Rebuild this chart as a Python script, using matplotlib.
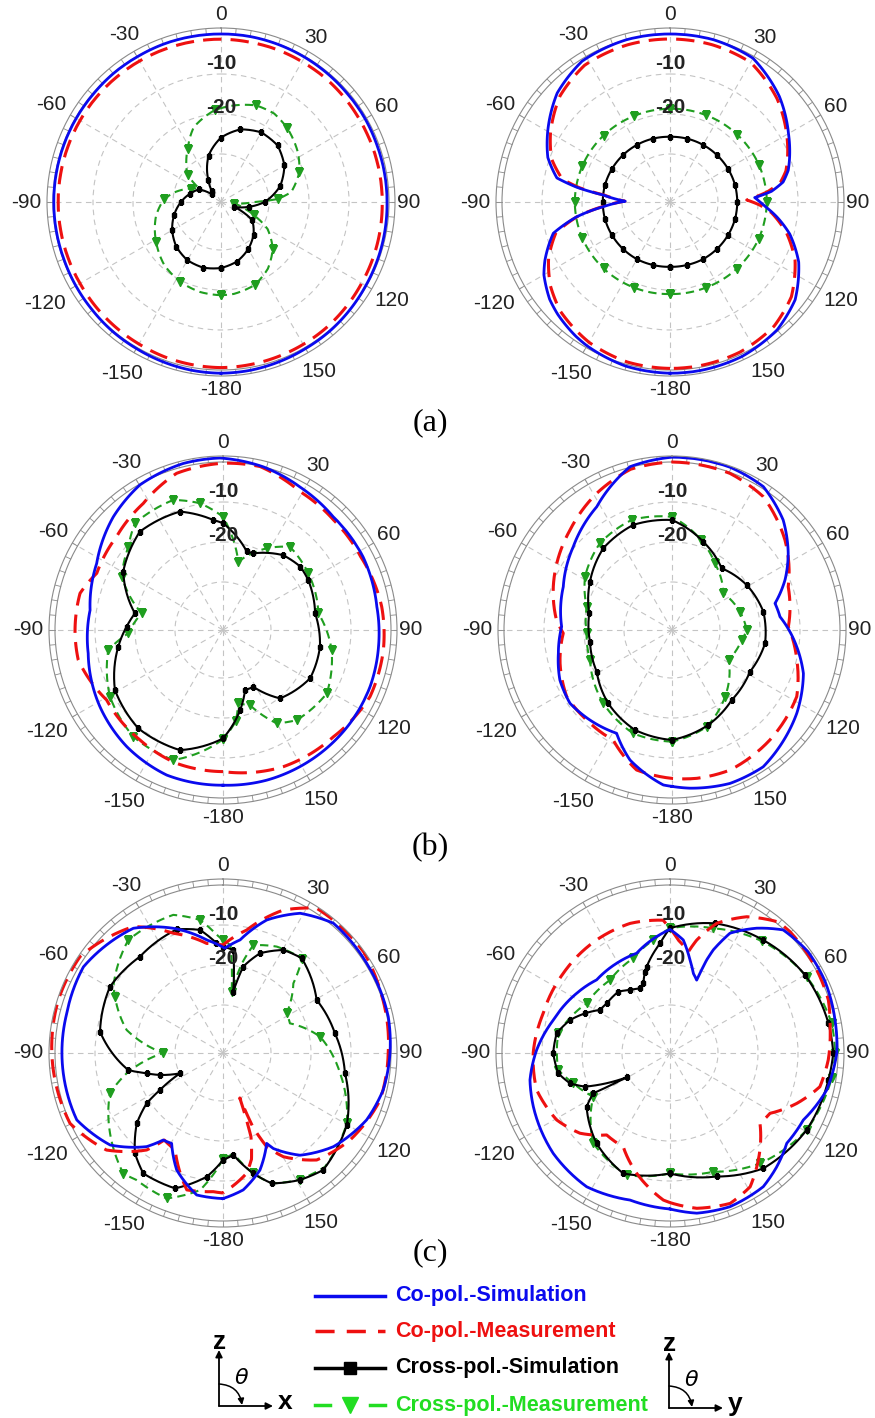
import numpy as np
import matplotlib
matplotlib.use("Agg")
import matplotlib.pyplot as plt

W, H = 875, 1418
plt.rcParams['font.family'] = ['Liberation Sans', 'DejaVu Sans']

# angles in degrees (0 = top, clockwise positive), values in dB

# ---- (a) left
a1_co_sim_ang = list(range(-180, 181, 10))
a1_co_sim = [0.8, 0.7, 0.5, 0.3, 0.2, 0.0, -0.1, -0.2, -0.2, -0.2, -0.2, -0.2, -0.2, -0.2, -0.1, -0.1, 0.0, 0.0, 0.0,
             0.0, -0.1, -0.2, -0.3, -0.4, -0.4, -0.5, -0.5, -0.5, -0.4, -0.3, -0.2, 0.0, 0.2, 0.3, 0.5, 0.7, 0.8]
a1_co_meas_ang = list(range(-180, 181, 10))
a1_co_meas = [-0.6, -0.7, -0.8, -1.0, -1.1, -1.2, -1.3, -1.3, -1.3, -1.3, -1.3, -1.3, -1.3, -1.3, -1.3, -1.3, -1.3, -1.3, -1.3,
              -1.4, -1.4, -1.5, -1.5, -1.6, -1.7, -1.7, -1.7, -1.7, -1.6, -1.5, -1.4, -1.2, -1.0, -0.9, -0.8, -0.7, -0.6]
a1_x_sim_ang = [-180, -165, -150, -135, -120, -105, -90, -75, -60, -50, -40, -30, -15, 0, 15, 30, 45, 60, 75, 90, 100, 110,
                120, 135, 150, 165, 180]
a1_x_sim = [-25.5, -25.0, -25.2, -26.2, -27.9, -29.9, -32.0, -34.0, -35.7, -39.0, -38.5, -35.7, -30.0, -25.9, -23.2, -21.9,
            -22.0, -23.7, -26.7, -31.1, -35.0, -38.5, -33.0, -30.5, -28.4, -26.6, -25.5]
a1_x_meas_ang = [-180, -167, -153, -138, -122, -102, -87, -77, -66, -58, -51, -40, -32, -20, -4, 8, 20, 31, 42, 57, 69, 82,
                 87, 90, 97, 105, 112, 120, 132, 145, 158, 172, 180]
a1_x_meas = [-18.7, -18.9, -19.6, -20.8, -22.9, -25.4, -27.8, -30.5, -33.8, -35.5, -31.3, -28.5, -26.3, -22.1, -19.0, -17.6,
             -16.3, -16.2, -17.2, -19.1, -21.0, -24.3, -27.8, -33.7, -38.6, -36.0, -33.0, -28.6, -24.6, -21.6, -19.6, -18.8,
             -18.7]

# ---- (a) right
a2_co_sim_ang = [-180, -165, -150, -145, -135, -129, -120, -115, -105, -99, -94, -89, -84, -81, -78, -70, -60, -46, -32, -15,
                 0, 15, 30, 46, 60, 75, 80, 84, 87, 90, 93, 98, 105, 115, 128, 140, 155, 170, 180]
a2_co_sim = [0.8, 0.5, -0.5, -1.0, -2.3, -3.3, -5.6, -7.5, -11.8, -18.4, -25.3, -30.8, -25.2, -18.4, -13.1, -9.5, -6.7, -2.8,
             -0.5, 0.0, 0.0, 0.0, -0.5, -4.0, -7.8, -11.4, -13.3, -16.5, -20.8, -19.5, -18.0, -15.0, -11.0, -6.5, -2.3, -0.3,
             0.6, 0.8, 0.8]
a2_co_meas_ang = [-180, -165, -150, -135, -125, -115, -105, -99, -94, -89, -84, -81, -78, -70, -60, -46, -32, -15, 0, 15, 30,
                  46, 60, 75, 80, 84, 88.5, 92, 96, 105, 115, 128, 140, 155, 170, 180]
a2_co_meas = [-0.4, -0.6, -1.5, -3.3, -5.5, -8.5, -12.5, -18.5, -25.0, -30.7, -25.5, -19.0, -14.5, -10.5, -7.5, -3.8, -1.7,
              -1.3, -1.25, -1.3, -1.7, -4.8, -8.3, -12.0, -14.0, -17.5, -22.8, -19.5, -16.5, -11.8, -7.5, -3.5, -1.5, -0.6,
              -0.4, -0.4]
a2_x_sim_ang = list(range(-180, 181, 15))
a2_x_sim = [-25.8, -25.7, -25.5, -25.4, -25.3, -25.2, -25.2, -25.2, -25.3, -25.4, -25.5, -25.6, -25.7, -25.6, -25.5, -25.4,
            -25.3, -25.2, -25.2, -25.2, -25.3, -25.4, -25.5, -25.7, -25.8]
a2_x_meas_ang = [-180, -157.5, -135, -112.5, -90, -67.5, -45, -22.5, 0, 22.5, 45, 67.5, 90, 112.5, 135, 157.5, 180]
a2_x_meas = [-19.0, -18.8, -18.5, -18.3, -18.2, -18.3, -18.5, -18.7, -18.7, -18.5, -18.2, -17.9, -17.8, -18.0, -18.4, -18.8,
             -19.0]

# ---- (b) left
b1_co_sim_ang = [-180, -158.8, -140.5, -121.9, -99.8, -81.5, -62.2, -44.1, -29.8, -13.4, -1, 14, 28.3, 44.2, 62.4, 81.4,
                 96.1, 111, 126.3, 150.6, 163.8, 180]
b1_co_sim = [-3.2, -3.1, -4.2, -5.75, -7.8, -8.4, -6.3, -2.6, -0.2, 0.8, 1.0, 0.0, -1.4, -2.5, -2.5, -3.1, -2.9, -2.6, -2.6,
             -2.8, -2.9, -3.2]
b1_co_meas_ang = [-180, -160.8, -143, -121, -101.7, -91.3, -75.6, -65.8, -48.7, -32.2, -16.5, 0, 12.8, 29.1, 45.1, 62, 81.6,
                  97.1, 114.4, 134, 156.2, 180]
b1_co_meas = [-6.6, -6.7, -7.55, -8.05, -5.05, -5.0, -5.1, -7.4, -6.6, -4.6, -1.15, -0.3, -0.1, -2.4, -3.0, -3.0, -1.9, -1.6,
              -1.65, -3.6, -4.65, -6.6]
b1_x_sim_ang = [-180, -160.3, -139.3, -119, -99, -88, -79.3, -59.7, -40.2, -20, -5, 0, 16.8, 21.6, 38.8, 50.6, 59.6, 79.7,
                99.8, 119, 140.2, 151.9, 159.9, 168, 180]
b1_x_sim = [-14.9, -10.1, -9.55, -11.1, -15.5, -17.9, -19.6, -13.1, -9.8, -10.5, -14.4, -15.3, -21.5, -21.4, -18.0, -17.0,
            -17.3, -18.6, -17.4, -17.1, -19.75, -25.9, -26.0, -21.5, -14.9]
b1_x_meas_ang = [-180, -159.1, -140, -120.5, -99.9, -92, -78.4, -62.2, -48.7, -39.5, -20.9, -10.3, 0, 12.6, 28.1, 38.8, 56.4,
                 80, 100.4, 121.4, 140.7, 150.1, 160.2, 168.2, 172, 180]
b1_x_meas = [-14.7, -7.2, -7.15, -9.2, -12.9, -18.3, -21.25, -13.4, -10.5, -7.4, -7.2, -9.8, -13.7, -24.5, -18.85, -15.3,
             -16.4, -17.8, -14.4, -11.6, -12.9, -15.1, -22.0, -23.3, -19.0, -14.7]

# ---- (b) right
b2_co_sim_ang = [-180, -176.8, -162.1, -151.8, -137.7, -125.7, -114.1, -101.6, -88.3, -68.3, -49.8, -31.4, -14.4, 0, 19.6,
                 32.5, 45.3, 56.6, 66.1, 75.5, 83, 97.6, 108.3, 123.7, 146.3, 159.3, 173.5, 180]
b2_co_sim = [-2.9, -3.2, -7.85, -12.7, -11.55, -10.6, -11.3, -13.0, -14.4, -12.75, -9.7, -5.9, 0.15, 1.2, 1.2, 0.5, -2.9,
             -7.2, -11.1, -15.4, -14.8, -10.55, -7.4, -4.5, -0.9, -1.0, -2.2, -2.9]
b2_co_meas_ang = [-180, -165.8, -151.9, -136.5, -122.3, -106.6, -91.7, -85, -69.9, -45.6, -28.9, -14.4, 0, 20.3, 34.4, 51.5,
                  69.6, 88.4, 103.5, 118.1, 138.3, 157.5, 170.5, 180]
b2_co_meas = [-4.9, -5.9, -10.8, -11.0, -10.85, -12.8, -14.8, -13.0, -10.4, -6.3, -3.0, -0.5, 0.0, -0.25, -1.6, -5.9, -11.0,
              -12.9, -9.9, -6.65, -5.2, -4.1, -4.4, -4.9]
b2_x_sim_ang = [-180, -159.7, -139, -118.9, -98.1, -78.6, -59.5, -40, -20.2, 0, 19.5, 38.8, 58.9, 78.7, 98.1, 118.1, 139.5,
                159, 180]
b2_x_sim = [-14.5, -15.35, -17.7, -20.5, -21.3, -20.9, -18.2, -15.3, -14.0, -14.5, -18.6, -22.2, -20.2, -18.7, -18.5, -19.9,
            -19.0, -16.6, -14.5]
b2_x_meas_ang = [-180, -159.5, -136.9, -110.1, -92.2, -74.7, -58.5, -39.7, -20.1, 0, 18, 32.8, 54.4, 74.9, 90, 98.2, 118,
                 141.5, 160.3, 180]
b2_x_meas = [-14.1, -14.4, -16.9, -20.2, -20.65, -19.9, -16.5, -13.8, -12.7, -13.7, -18.4, -22.2, -26.2, -24.4, -23.3, -24.4,
             -26.0, -20.7, -16.3, -14.1]

# ---- (c) left
c1_co_sim_ang = [-180, -169.5, -158.4, -150.4, -145.5, -140.8, -129.2, -114.6, -97.2, -75.7, -58.3, -35.7, -21.7, -8.2, 1,
                 8.6, 18.2, 28.9, 40.4, 58, 77.6, 90, 103, 115, 130.3, 143, 152.2, 154.2, 162.5, 171.6, 180]
c1_co_sim = [-5.6, -5.9, -10.55, -16.0, -15.6, -11.8, -5.6, -1.8, -1.75, -1.7, -1.0, -3.6, -8.45, -13.45, -15.8, -13.4, -7.0,
             -2.1, 0.6, 0.35, 0.3, -0.25, -0.9, -2.4, -5.8, -10.0, -15.0, -16.9, -11.3, -7.4, -5.6]
c1_co_meas_ang = [-180, -176, -165.2, -153.7, -146, -141.8, -129.8, -114.7, -90, -72.2, -56, -35.4, -22.5, -8.5, 0, 10.9,
                  22.9, 32.9, 54.4, 68.1, 90, 106.7, 124.4, 138.8, 149.8, 155, 158, 159.5, 161.5, 165, 168.9, 180]
c1_co_meas = [-7.0, -7.25, -6.6, -15.0, -15.75, -11.15, -4.1, 0.1, 0.8, 1.25, 1.1, -3.25, -9.6, -14.3, -15.0, -10.7, -3.2,
              1.1, 1.3, 0.3, -0.7, -1.0, -3.5, -6.45, -12.0, -16.15, -22.0, -30.0, -20.0, -14.5, -11.35, -7.0]
c1_x_sim_ang = [-180, -172.5, -160.5, -146.5, -138.7, -129.2, -123.4, -120.4, -115.3, -109.2, -104.9, -100.2, -80.2, -59.6,
                -40.8, -20.5, -10.6, -3.4, 0, 5.7, 9.5, 13.2, 20.4, 30.4, 39.7, 60.5, 80, 99.4, 120.2, 139.4, 148.8, 159.5,
                165.9, 174.2, 180]
c1_x_sim = [-15.25, -10.8, -6.1, -5.9, -8.65, -14.2, -19.15, -23.7, -30.1, -25.3, -22.25, -17.95, -10.8, -9.25, -10.2, -9.0,
            -10.7, -14.5, -15.4, -16.1, -26.45, -19.8, -15.4, -12.15, -11.2, -15.1, -13.6, -11.1, -6.2, -3.5, -4.9, -7.2,
            -11.0, -16.4, -15.25]
c1_x_meas_ang = [-180, -170.5, -158.8, -145.8, -140.4, -125.4, -109.6, -101.9, -90, -76.6, -62.5, -58.8, -40, -19.8, -9.8,
                 -3, 0, 4, 8, 12, 15.7, 26.8, 40, 45.3, 58.1, 66.1, 80.4, 99.8, 119.6, 138.1, 148.8, 159.5, 166, 174, 180]
c1_x_meas = [-15.5, -7.25, -3.0, -3.6, -2.9, -7.35, -12.0, -17.4, -27.1, -17.25, -11.55, -9.95, -5.15, -5.3, -8.25, -12.45,
             -13.75, -15.0, -26.5, -19.0, -14.0, -12.2, -11.2, -17.25, -23.25, -23.7, -17.4, -12.3, -6.4, -3.8, -5.0, -7.2,
             -11.0, -16.75, -15.5]

# ---- (c) right
c2_co_sim_ang = [-180, -164.8, -148.1, -130.7, -111.4, -100.9, -88.7, -74.2, -57.4, -45.1, -30.7, -18.5, -6.5, 0, 6.7, 12.1,
                 16.3, 20.1, 21.5, 22.8, 26.6, 34.8, 42.6, 53.7, 65, 78.7, 90, 103.3, 116.7, 127.7, 136.8, 145.1, 158.7,
                 170.5, 180]
c2_co_sim = [-3.0, -3.9, -2.6, -3.5, -5.3, -6.35, -8.65, -11.7, -14.3, -16.1, -15.9, -15.7, -12.7, -11.1, -13.55, -18.2,
             -21.25, -22.6, -17.0, -14.0, -8.5, -4.0, -0.2, 0.8, 0.7, 0.07, -0.3, -1.75, -4.7, -5.1, -3.0, -1.25, -0.75,
             -1.4, -3.0]
c2_co_meas_ang = [-180, -177.4, -164.5, -153.5, -142.3, -131.7, -120.6, -105.5, -90, -72.6, -53.2, -33, -17.1, -3, 4.2,
                  10.3, 13.3, 19.8, 29.4, 39.6, 44.7, 58, 71.5, 80.7, 92.5, 102.7, 111.7, 121.1, 128, 140.5, 149.1, 158.2,
                  170.2, 180]
c2_co_meas = [-4.6, -5.2, -10.8, -15.8, -16.1, -11.85, -9.1, -7.4, -7.8, -8.8, -8.7, -8.3, -8.1, -8.75, -13.7, -16.25, -13.0,
              -7.55, -2.9, 0.5, 0.65, 0.25, -0.25, -1.45, -2.4, -3.6, -7.9, -12.8, -13.45, -7.3, -3.0, -1.5, -2.6, -4.6]
c2_x_sim_ang = [-180, -158.8, -140.9, -122.8, -117.7, -119.3, -111.6, -106.9, -100.3, -90, -80.1, -71.7, -65, -58.4, -51.9,
                -40.1, -32.4, -24.9, -20.9, -17.1, -15.1, -5.2, 0, 19.1, 39.5, 60, 79.4, 90, 99.7, 119.4, 141, 159.3, 180]
c2_x_sim = [-11.9, -9.7, -12.9, -17.2, -20.35, -29.6, -19.15, -15.9, -13.6, -12.8, -13.25, -15.7, -18.55, -21.45, -21.9,
            -21.95, -23.35, -24.2, -23.35, -20.7, -19.65, -14.5, -10.8, -7.7, -5.4, -3.0, -1.7, -1.2, -1.85, -2.8, -4.9,
            -9.0, -11.9]
c2_x_meas_ang = [-180, -160.4, -139.7, -119.7, -107.4, -98.7, -80, -59.2, -39.4, -21.2, -8.4, 0, 19.2, 39.5, 60.8, 79.6, 90,
                 98.9, 119.4, 140.8, 160, 180]
c2_x_meas = [-11.9, -9.6, -12.4, -19.95, -16.7, -13.75, -13.65, -17.75, -18.4, -16.6, -13.45, -10.8, -9.0, -5.8, -2.9, -0.9,
             -0.75, -1.1, -2.8, -6.4, -10.4, -11.9]

tick_labels = ['0', '30', '60', '90', '120', '150', '-180', '-150', '-120', '-90', '-60', '-30']
tick_angles = [0, 30, 60, 90, 120, 150, 180, -150, -120, -90, -60, -30]
tick_label_r = [4.8, 5.5, 5.9, 5.0, 7.4, 6.9, 4.8, 7.6, 8.7, 6.6, 7.0, 6.4]

BLUE, RED, GREEN, GREEN_LEG = '#0a0aee', '#ee1010', '#1f9e1f', '#22dd22'
RMIN, RMAX = -42, 1.5


def curve(ax, ang, val, **kw):
    ln, = ax.plot(np.deg2rad(ang), val, **kw)
    # draw segments along (theta, r) so curves stay round
    ln.get_path()._interpolation_steps = 24
    return ln


def make_polar(fig, cx, cy, R=174):
    ax = fig.add_axes([(cx - R) / W, 1 - (cy + R) / H, 2 * R / W, 2 * R / H], projection='polar')
    ax.set_theta_zero_location('N')
    ax.set_theta_direction(-1)
    ax.set_ylim(RMIN, RMAX)
    ax.set_yticks([-30, -20, -10, 0])
    ax.set_yticklabels([])
    ax.set_xticks(np.deg2rad(np.arange(0, 360, 30)))
    ax.set_xticklabels([])
    ax.tick_params(length=0)
    ax.grid(True, color='#c4c4c4', ls=(0, (5, 4)), lw=0.8)
    ax.yaxis.get_gridlines()[-1].set(ls='-', color='#8a8a8a', lw=0.8)
    ax.spines['polar'].set(color='#8a8a8a', lw=0.8)
    for t in range(0, 360, 5):
        ax.plot([np.deg2rad(t)] * 2, [0, RMAX], color='#8a8a8a', lw=0.6)
    for lab, a, r in zip(tick_labels, tick_angles, tick_label_r):
        ax.text(np.deg2rad(a), r, lab, ha='center', va='center', fontsize=15, color='#222222', clip_on=False)
    ax.text(0, -7.4, '-10', ha='center', va='center', fontsize=15, fontweight='bold', color='#222222')
    ax.text(0, -18.3, '-20', ha='center', va='center', fontsize=15, fontweight='bold', color='#222222')
    return ax


def draw_panel(ax, co_sim, co_meas, x_sim, x_meas, gm=1):
    curve(ax, x_meas[0], x_meas[1], color=GREEN, lw=1.5, ls=(0, (4, 2.5)), marker='v', ms=6,
          markevery=gm, mfc=GREEN, mec=GREEN)
    curve(ax, x_sim[0], x_sim[1], color='k', lw=1.5, marker='s', ms=3.5)
    curve(ax, co_meas[0], co_meas[1], color=RED, lw=2.2, ls=(0, (6, 3)))
    curve(ax, co_sim[0], co_sim[1], color=BLUE, lw=2.0)


fig = plt.figure(figsize=(W / 100, H / 100), dpi=100)

panels = [
    ((221, 202), (a1_co_sim_ang, a1_co_sim), (a1_co_meas_ang, a1_co_meas), (a1_x_sim_ang, a1_x_sim), (a1_x_meas_ang, a1_x_meas), 2),
    ((670, 202), (a2_co_sim_ang, a2_co_sim), (a2_co_meas_ang, a2_co_meas), (a2_x_sim_ang, a2_x_sim), (a2_x_meas_ang, a2_x_meas), 1),
    ((223, 630), (b1_co_sim_ang, b1_co_sim), (b1_co_meas_ang, b1_co_meas), (b1_x_sim_ang, b1_x_sim), (b1_x_meas_ang, b1_x_meas), 1),
    ((672, 630), (b2_co_sim_ang, b2_co_sim), (b2_co_meas_ang, b2_co_meas), (b2_x_sim_ang, b2_x_sim), (b2_x_meas_ang, b2_x_meas), 1),
    ((223, 1053), (c1_co_sim_ang, c1_co_sim), (c1_co_meas_ang, c1_co_meas), (c1_x_sim_ang, c1_x_sim), (c1_x_meas_ang, c1_x_meas), 2),
    ((670, 1053), (c2_co_sim_ang, c2_co_sim), (c2_co_meas_ang, c2_co_meas), (c2_x_sim_ang, c2_x_sim), (c2_x_meas_ang, c2_x_meas), 1),
]
for (cx, cy), cs, cm, xs, xm, gm in panels:
    ax = make_polar(fig, cx, cy)
    draw_panel(ax, cs, cm, xs, xm, gm)

# overlay in pixel coordinates for captions, legend and axis sketches
ov = fig.add_axes([0, 0, 1, 1])
ov.set_xlim(0, W)
ov.set_ylim(H, 0)
ov.axis('off')

for lab, y in [('(a)', 423), ('(b)', 848), ('(c)', 1253)]:
    ov.text(430, y, lab, ha='center', va='center', fontsize=23, family='Liberation Serif')

leg_y = [1296, 1331, 1368, 1405]
leg_txt = ['Co-pol.-Simulation', 'Co-pol.-Measurement', 'Cross-pol.-Simulation', 'Cross-pol.-Measurement']
leg_col = [BLUE, RED, 'k', GREEN_LEG]
ov.plot([315, 385], [leg_y[0]] * 2, color=BLUE, lw=2.5)
ov.plot([315, 385], [leg_y[1]] * 2, color=RED, lw=2.5, ls=(0, (5.5, 3.5)))
ov.plot([315, 385], [leg_y[2]] * 2, color='k', lw=2.5)
ov.plot([350], [leg_y[2]], marker='s', ms=9, color='k')
ov.plot([315, 330], [leg_y[3]] * 2, color=GREEN_LEG, lw=2.5)
ov.plot([370, 385], [leg_y[3]] * 2, color=GREEN_LEG, lw=2.5)
ov.plot([350], [leg_y[3]], marker='v', ms=11, color=GREEN_LEG)
for y, t, c in zip(leg_y, leg_txt, leg_col):
    ov.text(395, y, t, ha='left', va='center', fontsize=15.5, fontweight='bold', color=c)

# coordinate sketches
for x0, y0, lab in [(219, 1406, 'x'), (669, 1408, 'y')]:
    ov.annotate('', xy=(x0, y0 - 56), xytext=(x0, y0),
                arrowprops=dict(arrowstyle='-|>', lw=1.3, color='k', mutation_scale=10, shrinkA=0, shrinkB=0))
    ov.annotate('', xy=(x0 + 54, y0), xytext=(x0, y0),
                arrowprops=dict(arrowstyle='-|>', lw=1.3, color='k', mutation_scale=10, shrinkA=0, shrinkB=0))
    ov.annotate('', xy=(x0 + 23, y0 - 1), xytext=(x0, y0 - 22),
                arrowprops=dict(arrowstyle='-|>', lw=1.1, color='k', mutation_scale=9, shrinkA=0, shrinkB=0,
                                connectionstyle='arc3,rad=-0.4'))
    ov.text(x0 + 1, y0 - 64, 'z', ha='center', va='center', fontsize=19, fontweight='bold')
    ov.text(x0 + 66, y0 - 4, lab, ha='center', va='center', fontsize=19, fontweight='bold')
    ov.text(x0 + 23, y0 - 28, r'$\theta$', ha='center', va='center', fontsize=16)

fig.savefig('out.png', dpi=100)
